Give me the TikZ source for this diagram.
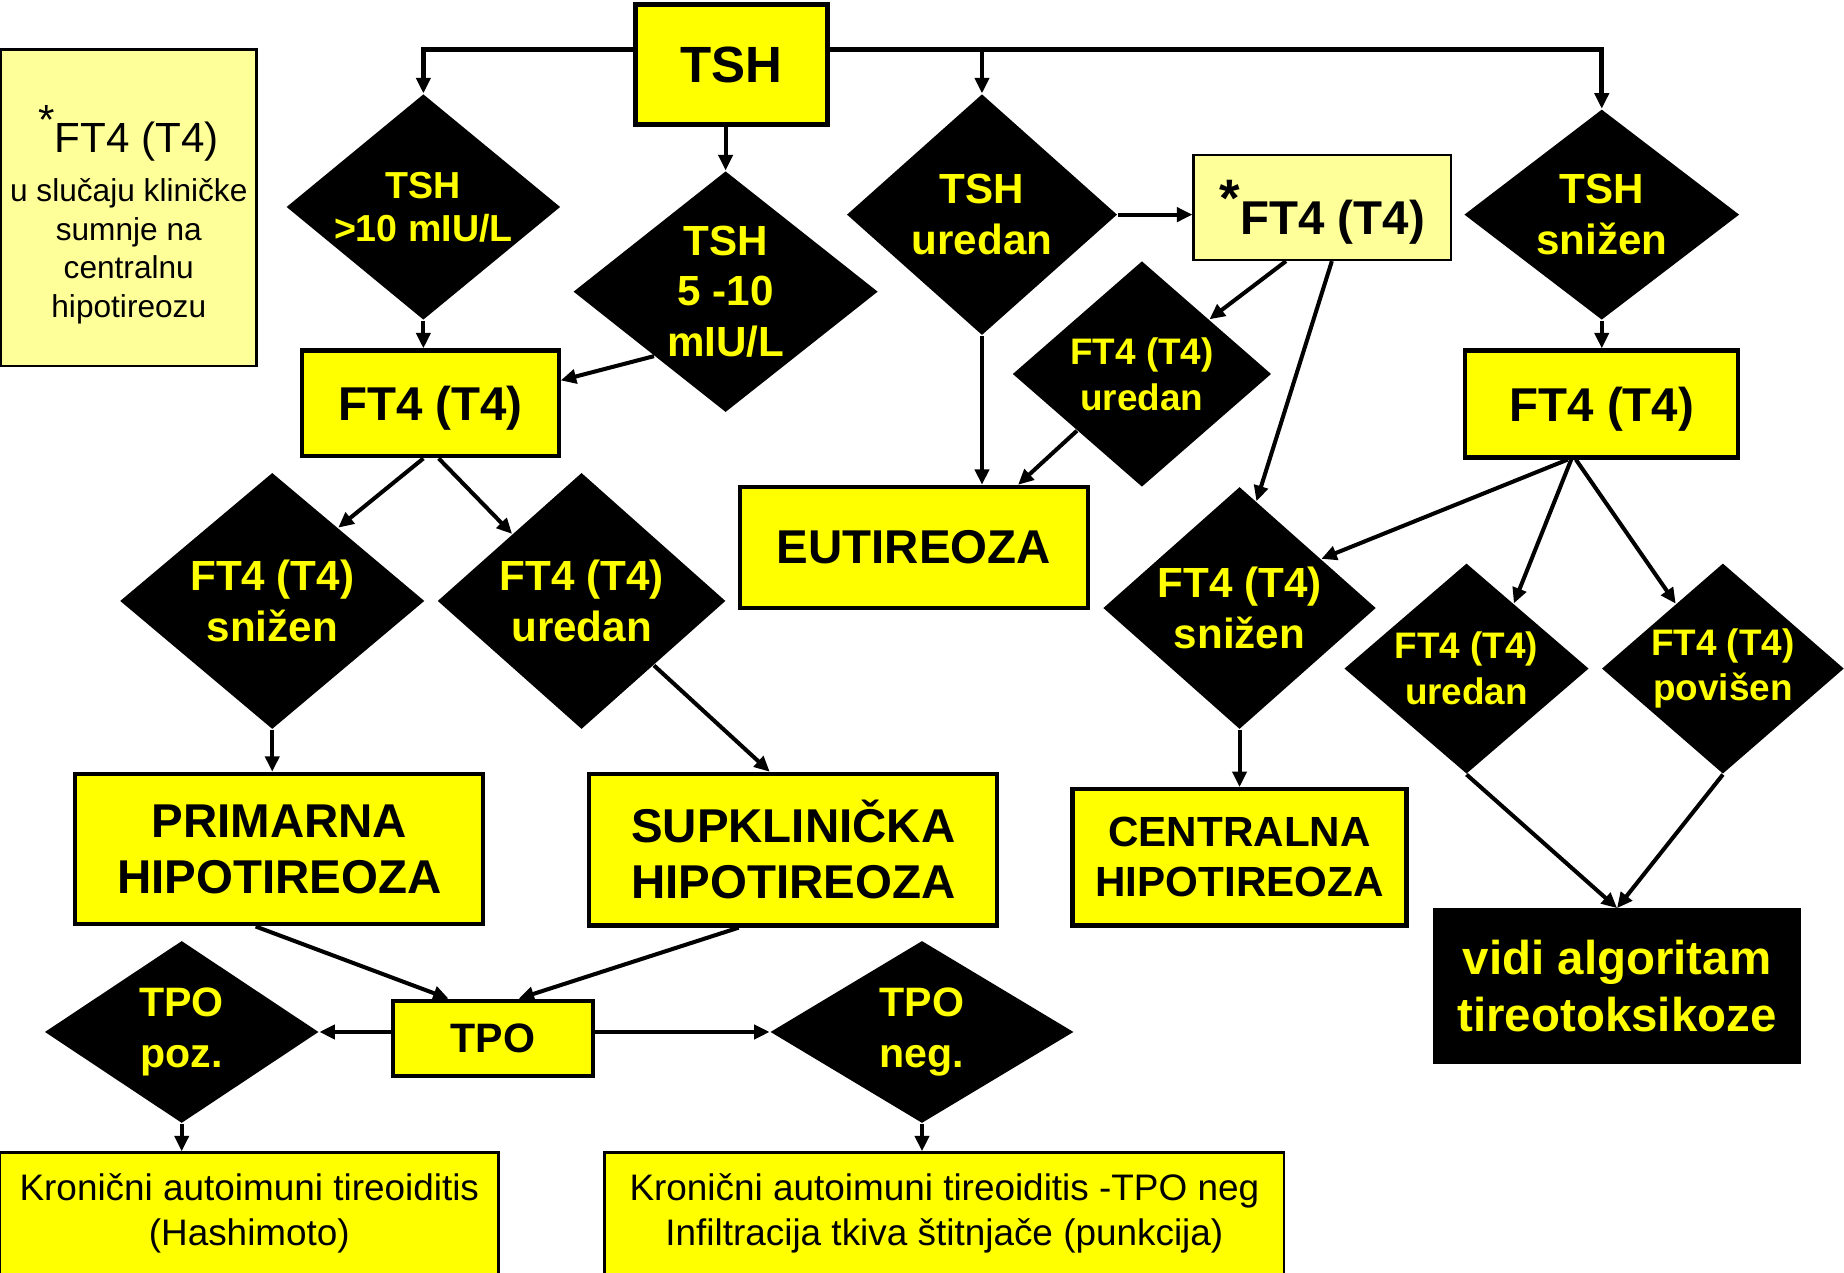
\documentclass[tikz,border=0pt]{standalone}
\usepackage{fontspec}
\setmainfont{Liberation Sans}
\usetikzlibrary{shapes.geometric,arrows.meta,calc}
\definecolor{zuta}{HTML}{FFFF00}
\definecolor{svijetla}{HTML}{FFFF99}
\newcommand\velicina[2]{\fontsize{#1}{#2}\selectfont}

\begin{document}
\begin{tikzpicture}[x=0.1176mm, y=-0.1176mm,
  sz/.style 2 args={minimum width=#1*0.1176mm, minimum height=#2*0.1176mm},
  box/.style 2 args={draw, line width=1.2pt, fill=zuta, inner sep=0pt, align=center, sz={#1}{#2}},
  note/.style 2 args={draw, line width=0.7pt, fill=svijetla, inner sep=0pt, align=center, sz={#1}{#2}},
  dia/.style 2 args={diamond, fill=black, text=zuta, inner sep=0pt, shape aspect=1.2, align=center, sz={#1}{#2}},
  arr/.style={-{Triangle[length=4.4pt,width=4pt]}, line width=1.15pt}]

  \useasboundingbox (0,0) rectangle (1568,1082);

  \newcommand\B{\bfseries\velicina{13.5}{16}}
  \newcommand\D{\bfseries\velicina{12}{14.5}}
  \newcommand\Dm{\bfseries\velicina{10.5}{13}}

  % gornji dio
  \node[note={217}{269}, font=\velicina{9}{11}] (napomena) at (109.5,176.5)
    {{\velicina{12}{14}\rule{0pt}{17.5pt}\raisebox{5pt}{*}FT4 (T4)}\\[3pt]u slučaju kliničke\\sumnje na\\centralnu\\hipotireozu};
  \node[box={164}{102}, line width=1.4pt, font=\bfseries\velicina{14.5}{17}] (tsh) at (622,55) {TSH};
  \node[dia={233}{192}, font=\bfseries\velicina{10.7}{12.3}] (tshvis) at (360,176) {TSH\\>10 mIU/L};
  \node[dia={259}{205}, font=\D] (tshgr) at (617,248) {TSH\\5 -10\\mIU/L};
  \node[dia={230}{205}, font=\D] (tshur) at (835,182.5) {TSH\\uredan};
  \node[note={219}{89}, text depth=0pt, font=\bfseries\velicina{13.5}{16}] (ft4zv) at (1124.5,176.5)
    {\raisebox{5pt}{\velicina{15}{15}*}FT4 (T4)};
  \node[dia={234}{179}, font=\D] (tshniz) at (1362,182.5) {TSH\\snižen};

  \node[box={218}{90}, text depth=0pt, font=\B] (ft4a) at (366,343) {FT4 (T4)};
  \node[dia={220}{192}, font=\Dm] (ft4ur) at (971,318) {FT4 (T4)\\uredan};
  \node[box={232}{91}, text depth=0pt, font=\B] (ft4b) at (1362,343.5) {FT4 (T4)};
  \node[box={296}{103}, font=\B] (eu) at (777,465.5) {EUTIREOZA};

  % srednji dio
  \node[dia={259}{218}, font=\D] (nizA) at (231.5,511) {FT4 (T4)\\snižen};
  \node[dia={245}{218}, font=\D] (urA) at (494.5,511) {FT4 (T4)\\uredan};
  \node[dia={232}{206}, font=\D] (nizB) at (1054,517) {FT4 (T4)\\snižen};
  \node[dia={208}{179}, font=\Dm] (urB) at (1247,568.5) {FT4 (T4)\\uredan};
  \node[dia={206}{179}, font=\Dm] (povB) at (1465,568.5) {FT4 (T4)\\povišen};

  \node[box={347}{128}, font=\B] (prim) at (237.5,722) {PRIMARNA\\HIPOTIREOZA};
  \node[box={347}{129}, font=\B] (supk) at (674.5,722.5) {SUPKLINIČKA\\HIPOTIREOZA};
  \node[box={284}{116}, font=\bfseries\velicina{12}{14.3}] (cent) at (1054,729) {CENTRALNA\\HIPOTIREOZA};
  \node[box={310}{129}, fill=black, text=zuta, font=\B] (vidi) at (1375,838.5) {vidi algoritam\\tireotoksikoze};

  % donji dio
  \node[box={170}{64}, font=\bfseries\velicina{11.7}{14}] (tpo) at (419,883) {TPO};
  \node[dia={233}{155}, font=\bfseries\velicina{11.7}{14.7}] (tpoz) at (154.5,877.5) {TPO\\poz.};
  \node[dia={258}{155}, font=\bfseries\velicina{11.7}{14.7}] (tneg) at (784,877.5) {TPO\\neg.};
  \node[box={424}{104}, line width=0.7pt, font=\velicina{10.5}{12.7}] (hash) at (212,1032) {Kronični autoimuni tireoiditis\\(Hashimoto)};
  \node[box={578}{104}, line width=0.7pt, font=\velicina{10.5}{12.7}] (kron) at (803,1032)
    {Kronični autoimuni tireoiditis -TPO neg\\Infiltracija tkiva štitnjače (punkcija)};

  \coordinate (lijevo) at ($(tsh.west)+(0,-13)$);
  \coordinate (desno) at ($(tsh.east)+(0,-13)$);

  \draw[arr, line width=1.4pt] (lijevo) -| (tshvis.north);
  \draw[arr, line width=1.4pt] (desno) -| (tshniz.north);
  \draw[arr] (tshur.north |- desno) -- (tshur.north);
  \draw[arr] (tshgr.north |- tsh.south) -- (tshgr.north);
  \draw[arr] (tshvis.south) -- (tshvis.south |- ft4a.north);
  \draw[arr] (tshgr.222) -- (ft4a.10);
  \draw[arr] (tshur.east) -- (tshur.east -| ft4zv.west);
  \draw[arr] (tshur.south) -- (tshur.south |- eu.north);
  \draw[arr] ($(ft4zv.south)+(-31,0)$) -- (ft4ur.39);
  \draw[arr] ($(ft4zv.south)+(8,0)$) -- (nizB.81);
  \draw[arr] (ft4ur.south west) -- (eu.31);
  \draw[arr] (tshniz.south) -- (ft4b.north);

  \draw[arr] ($(ft4a.south)+(-6,0)$) -- (nizA.48);
  \draw[arr] ($(ft4a.south)+(7,0)$) -- (urA.136);
  \draw[arr] (nizA.south) -- (nizA.south |- prim.north);
  \draw[arr] (urA.south east) -- ($(supk.north)+(-20,0)$);
  \draw[arr] ($(ft4b.south)+(-29,0)$) -- (nizB.31);
  \draw[arr] ($(ft4b.south)+(-26,0)$) -- (urB.54);
  \draw[arr] ($(ft4b.south)+(-22,0)$) -- (povB.126);
  \draw[arr] (nizB.south) -- (cent.north);
  \draw[arr] (urB.south) -- (vidi.north);
  \draw[arr] (povB.south) -- (vidi.north);

  \draw[arr] (prim.253) -- (tpo.138);
  \draw[arr] (supk.235) -- (tpo.57);
  \draw[arr] (tpoz.east -| tpo.west) -- (tpoz.east);
  \draw[arr] (tneg.west -| tpo.east) -- (tneg.west);
  \draw[arr] (tpoz.south) -- (tpoz.south |- hash.north);
  \draw[arr] (tneg.south) -- (tneg.south |- kron.north);

\end{tikzpicture}
\end{document}
